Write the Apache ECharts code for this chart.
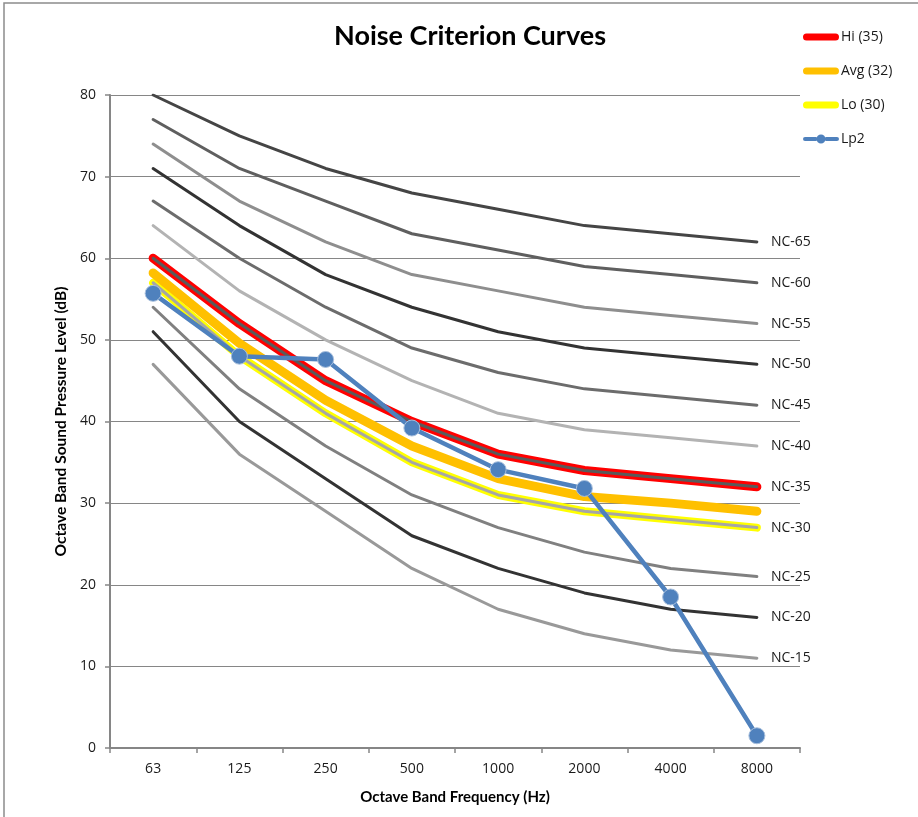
<!DOCTYPE html>
<html>
<head>
<meta charset="utf-8">
<script src="https://cdn.jsdelivr.net/npm/echarts@6/dist/echarts.min.js"></script>
<style>
  html, body { margin: 0; padding: 0; background: #fff; }
  #chart { width: 918px; height: 817px; }
</style>
</head>
<body>
<div id="chart"></div>
<script>
// Octave band centre frequencies (Hz)
const categories = ['63', '125', '250', '500', '1000', '2000', '4000', '8000'];

// Noise criterion reference curves (dB)
const nc15 = [47, 36, 29, 22, 17, 14, 12, 11];
const nc20 = [51, 40, 33, 26, 22, 19, 17, 16];
const nc25 = [54, 44, 37, 31, 27, 24, 22, 21];
const nc30 = [57, 48, 41, 35, 31, 29, 28, 27];
const nc35 = [60, 52, 45, 40, 36, 34, 33, 32];
const nc40 = [64, 56, 50, 45, 41, 39, 38, 37];
const nc45 = [67, 60, 54, 49, 46, 44, 43, 42];
const nc50 = [71, 64, 58, 54, 51, 49, 48, 47];
const nc55 = [74, 67, 62, 58, 56, 54, 53, 52];
const nc60 = [77, 71, 67, 63, 61, 59, 58, 57];
const nc65 = [80, 75, 71, 68, 66, 64, 63, 62];

// Target range and measured levels
const hi35 = [60, 52, 45, 40, 36, 34, 33, 32];
const avg32 = [58.2, 49.6, 42.6, 37, 33, 30.8, 30, 29];
const lo30 = [57, 48, 41, 35, 31, 29, 28, 27];
const lp2 = [55.7, 48, 47.6, 39.2, 34.1, 31.8, 18.5, 1.5];

const yTicks = { min: 0, max: 80, interval: 10 };

const ncCurves = [
  { name: 'NC-65', data: nc65, color: '#454545' },
  { name: 'NC-60', data: nc60, color: '#5f5f5f' },
  { name: 'NC-55', data: nc55, color: '#8e8e8e' },
  { name: 'NC-50', data: nc50, color: '#333333' },
  { name: 'NC-45', data: nc45, color: '#6c6c6c' },
  { name: 'NC-40', data: nc40, color: '#b3b3b3' },
  { name: 'NC-35', data: nc35, color: '#5a5a5a' },
  { name: 'NC-30', data: nc30, color: '#a6a6a6' },
  { name: 'NC-25', data: nc25, color: '#808080' },
  { name: 'NC-20', data: nc20, color: '#333333' },
  { name: 'NC-15', data: nc15, color: '#999999' }
];

const labelFont = 'Open Sans, DejaVu Sans, sans-serif';
const boldFont = 'Lato, Open Sans, sans-serif';

// Legend glyphs (36 x 14 box; tiny corner specks pin the box size)
const corners = 'M0,0 L0.01,0 L0.01,0.01 Z M36,14 L35.99,14 L35.99,13.99 Z ';
const barIcon = 'path://' + corners +
  'M3.5,3.5 L32.5,3.5 A3.5,3.5 0 0 1 32.5,10.5 L3.5,10.5 A3.5,3.5 0 0 1 3.5,3.5 Z';
const dotIcon = 'path://' + corners +
  'M2,5 L13.6,5 L13.6,9 L2,9 A2,2 0 0 1 2,5 Z M22.4,5 L34,5 A2,2 0 0 1 34,9 L22.4,9 Z ' +
  'M18,2.5 A4.5,4.5 0 1 1 17.99,2.5 Z';

function withEndLabel(values, text) {
  return values.map((v, i) => i === values.length - 1
    ? { value: v, label: { show: true, position: 'right', distance: 14, formatter: text,
        color: '#1a1a1a', fontSize: 14, fontFamily: labelFont } }
    : v);
}

const series = [];

series.push({
  name: 'Lo (30)', type: 'line', data: lo30, symbol: 'none', z: 2,
  lineStyle: { color: '#ffff00', width: 8, cap: 'round', join: 'round' },
  itemStyle: { color: '#ffff00' }
});
series.push({
  name: 'Hi (35)', type: 'line', data: hi35, symbol: 'none', z: 2,
  lineStyle: { color: '#ff0000', width: 9, cap: 'round', join: 'round' },
  itemStyle: { color: '#ff0000' }
});
series.push({
  name: 'Avg (32)', type: 'line', data: avg32, symbol: 'none', z: 4,
  lineStyle: { color: '#ffc000', width: 9, cap: 'round', join: 'round' },
  itemStyle: { color: '#ffc000' }
});

ncCurves.forEach(c => {
  series.push({
    name: c.name, type: 'line', data: withEndLabel(c.data, c.name),
    symbol: 'circle', symbolSize: 0, showSymbol: true, z: 3,
    lineStyle: { color: c.color, width: 3, cap: 'round', join: 'round' },
    itemStyle: { color: c.color }
  });
});

series.push({
  name: 'Lp2', type: 'line', data: lp2, z: 5,
  symbol: 'circle', symbolSize: 16,
  lineStyle: { color: '#4f81bd', width: 4.5 },
  itemStyle: { color: '#4f81bd', borderColor: '#a9c0dd', borderWidth: 1 }
});

const chart = echarts.init(document.getElementById('chart'), null, { renderer: 'canvas' });
chart.setOption({
  animation: false,
  backgroundColor: '#ffffff',
  title: {
    text: 'Noise Criterion Curves',
    left: 465, top: 18, textAlign: 'center',
    textStyle: { fontFamily: boldFont, fontWeight: 'bold', fontSize: 27, color: '#000' }
  },
  legend: {
    data: [
      { name: 'Hi (35)', icon: barIcon },
      { name: 'Avg (32)', icon: barIcon },
      { name: 'Lo (30)', icon: barIcon },
      { name: 'Lp2', icon: dotIcon, itemStyle: { borderWidth: 0 } }
    ],
    orient: 'vertical', left: 798, top: 25,
    itemWidth: 36, itemHeight: 14, itemGap: 20,
    textStyle: { fontFamily: labelFont, fontSize: 14, color: '#1a1a1a', padding: [0, 0, 0, -3] }
  },
  graphic: [{
    type: 'rect', shape: { x: 4, y: 3, width: 1000, height: 1000 },
    style: { fill: 'none', stroke: '#8c8c8c', lineWidth: 1.5 }, silent: true, z: -1
  }],
  grid: { left: 110, right: 118, top: 95, bottom: 69 },
  xAxis: {
    type: 'category', data: categories, boundaryGap: true,
    name: 'Octave Band Frequency (Hz)', nameLocation: 'middle', nameGap: 42,
    nameTextStyle: { fontFamily: boldFont, fontWeight: 'bold', fontSize: 15, color: '#000' },
    axisLine: { lineStyle: { color: '#868686', width: 2 } },
    axisTick: { show: true, length: 5, lineStyle: { color: '#868686', width: 1.5 } },
    axisLabel: { fontFamily: labelFont, fontSize: 14, color: '#1a1a1a', margin: 14 }
  },
  yAxis: {
    type: 'value', min: yTicks.min, max: yTicks.max, interval: yTicks.interval,
    name: 'Octave Band Sound Pressure Level (dB)', nameLocation: 'middle', nameGap: 39,
    nameRotate: 90,
    nameTextStyle: { fontFamily: boldFont, fontWeight: 'bold', fontSize: 15.5, color: '#000' },
    axisLine: { show: true, lineStyle: { color: '#868686', width: 2 } },
    axisTick: { show: true, length: 5, lineStyle: { color: '#868686', width: 1.5 } },
    axisLabel: { fontFamily: labelFont, fontSize: 14, color: '#1a1a1a', margin: 14 },
    splitLine: { show: true, lineStyle: { color: '#868686', width: 1.2 } }
  },
  series: series
});
</script>
</body>
</html>
